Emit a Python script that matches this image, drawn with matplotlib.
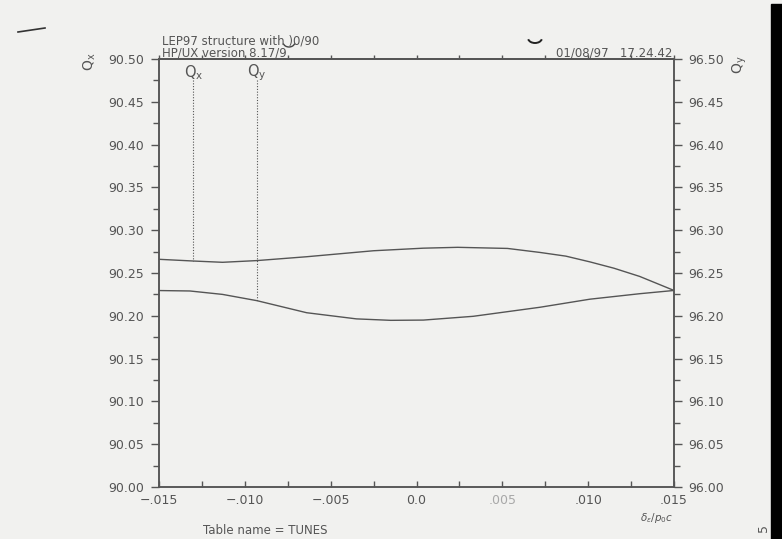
import matplotlib.pyplot as plt
from matplotlib.patches import Arc, Rectangle
from matplotlib.lines import Line2D
from matplotlib.ticker import FixedLocator, MultipleLocator

# values
dp_x = [-0.015, -0.0130, -0.0113, -0.0093, -0.0064, -0.0025, 0.0004, 0.0024,
        0.0053, 0.0072, 0.0087, 0.0101, 0.0115, 0.0130, 0.015]
qx = [90.266, 90.264, 90.2625, 90.2645, 90.269, 90.276, 90.279, 90.280,
      90.2787, 90.274, 90.2697, 90.263, 90.2556, 90.246, 90.2296]

dp_y = [-0.015, -0.0132, -0.0113, -0.0093, -0.0064, -0.0035, -0.0015, 0.0004,
        0.0033, 0.0072, 0.0101, 0.0130, 0.015]
qy = [96.2295, 96.229, 96.225, 96.2177, 96.2036, 96.1964, 96.1947, 96.195,
      96.1994, 96.210, 96.2194, 96.2258, 96.2296]

qx_marker = (-0.0130, 90.264)
qy_marker = (-0.0093, 96.2177)

x_ticks = [-0.015, -0.010, -0.005, 0.0, 0.005, 0.010, 0.015]
x_labels = ["\u2212.015", "\u2212.010", "\u2212.005", "0.0", ".005", ".010", ".015"]
left_ticks = [90.00, 90.05, 90.10, 90.15, 90.20, 90.25, 90.30, 90.35, 90.40, 90.45, 90.50]
left_labels = ["%.2f" % v for v in left_ticks]
right_ticks = [96.00, 96.05, 96.10, 96.15, 96.20, 96.25, 96.30, 96.35, 96.40, 96.45, 96.50]
right_labels = ["%.2f" % v for v in right_ticks]

W, H = 782, 539
ink = "#555555"
paper = "#f1f1ef"


def fx(px):
    return px / W


def fy(py):
    return 1 - py / H


plt.rcParams["font.family"] = ["DejaVu Sans"]
fig = plt.figure(figsize=(W / 100, H / 100), dpi=100, facecolor=paper)
ax = fig.add_axes([fx(159), fy(487), 515 / W, 428 / H], facecolor=paper)
ax2 = ax.twinx()

ax.plot(dp_x, qx, color=ink, lw=1.0)
ax2.plot(dp_y, qy, color=ink, lw=1.0)

# tune markers
ax.plot([qx_marker[0]] * 2, [90.476, qx_marker[1]], color=ink, lw=0.8, ls=(0, (1, 1.5)))
ax2.plot([qy_marker[0]] * 2, [96.476, qy_marker[1]], color=ink, lw=0.8, ls=(0, (1, 1.5)))
ax.text(qx_marker[0], 90.484, "Q$_\\mathrm{x}$", ha="center", va="center", fontsize=10.5, color=ink)
ax2.text(qy_marker[0], 96.484, "Q$_\\mathrm{y}$", ha="center", va="center", fontsize=10.5, color=ink)

ax.set_xlim(-0.015, 0.015)
ax.set_ylim(90.0, 90.5)
ax2.set_ylim(96.0, 96.5)

ax.xaxis.set_major_locator(FixedLocator(x_ticks))
ax.set_xticklabels(x_labels)
ax.xaxis.set_minor_locator(MultipleLocator(0.0025))
ax.yaxis.set_major_locator(FixedLocator(left_ticks))
ax.set_yticklabels(left_labels)
ax.yaxis.set_minor_locator(MultipleLocator(0.025))
ax2.yaxis.set_major_locator(FixedLocator(right_ticks))
ax2.set_yticklabels(right_labels)
ax2.yaxis.set_minor_locator(MultipleLocator(0.025))

ax.tick_params(axis="y", which="major", direction="out", length=6, width=1, color=ink,
               labelsize=9, labelcolor=ink, pad=5)
ax.tick_params(axis="y", which="minor", direction="out", length=4, width=1, color=ink)
ax2.tick_params(axis="y", which="major", direction="out", length=6, width=1, color=ink,
                labelsize=9, labelcolor=ink, pad=4)
ax2.tick_params(axis="y", which="minor", direction="out", length=4, width=1, color=ink)
ax.tick_params(axis="x", which="both", direction="in", length=4, width=1, color=ink,
               labelsize=9, labelcolor=ink, pad=5)
ax.get_xticklabels()[4].set_color("#a8a8a8")

top = ax.secondary_xaxis("top")
top.set_xticks([-0.015 + 0.0025 * i for i in range(13)])
top.tick_params(direction="out", length=3, width=1, color=ink, labeltop=False)

for a in (ax, ax2, top):
    for s in a.spines.values():
        s.set_color(ink)
        s.set_linewidth(1.1)

# header / footer texts
fig.text(fx(162), fy(44), "LEP97 structure with )0/90", fontsize=8.5, color=ink, va="baseline")
fig.text(fx(162), fy(56), "HP/UX version 8.17/9", fontsize=8.5, color=ink, va="baseline")
fig.text(fx(672), fy(57), "01/08/97   17.24.42", fontsize=8.5, color=ink, va="baseline", ha="right")
fig.text(fx(203), fy(531), "Table name = TUNES", fontsize=8.5, color=ink, va="center")
fig.text(fx(657), fy(518), "$\\delta_\\epsilon/p_0c$", fontsize=7.5, color=ink, va="center", ha="center")
fig.text(fx(90), fy(62), "Q$_\\mathrm{x}$", rotation=90, fontsize=10, color=ink, va="center", ha="center")
fig.text(fx(740), fy(65), "Q$_\\mathrm{y}$", rotation=90, fontsize=10, color=ink, va="center", ha="center")
fig.text(fx(764), fy(528), "5", rotation=90, fontsize=9, color=ink, va="center", ha="center")

# scan artefacts
fig.add_artist(Line2D([fx(18), fx(45)], [fy(32), fy(28)], color="#333333", lw=1.2))
fig.add_artist(Arc((fx(535), fy(38)), 14 / W, 10 / H, theta1=195, theta2=345,
                   color="#222222", lw=1.4, transform=fig.transFigure))
fig.add_artist(Arc((fx(289), fy(42)), 12 / W, 10 / H, theta1=200, theta2=340,
                   color="#444444", lw=1.0, transform=fig.transFigure))
fig.add_artist(Rectangle((fx(771), 0), 11 / W, fy(4), color="black", transform=fig.transFigure))

fig.savefig("out.png", dpi=100, facecolor=paper)
